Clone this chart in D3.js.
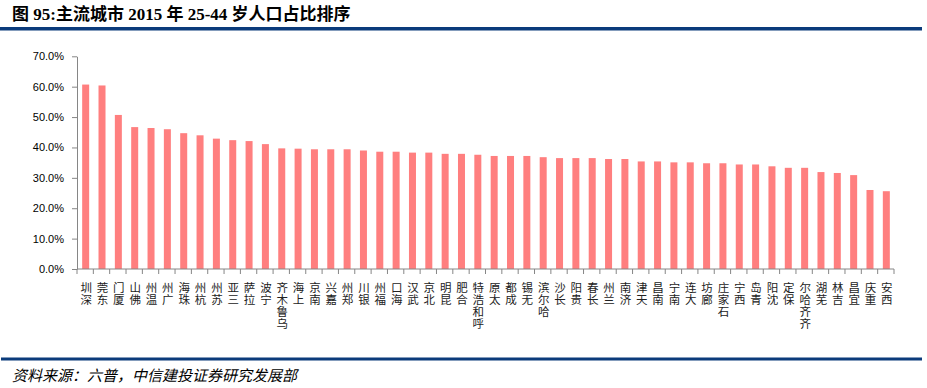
<!DOCTYPE html>
<html><head><meta charset="utf-8">
<script src="https://cdn.jsdelivr.net/npm/d3@7"></script>
<style>
html,body{margin:0;padding:0;background:#fff;}
svg{display:block;}
</style></head>
<body>
<script>
const cities = ["深圳","东莞","厦门","佛山","温州","广州","珠海","杭州","苏州","三亚","拉萨","宁波","乌鲁木齐","上海","南京","嘉兴","郑州","银川","福州","海口","武汉","北京","昆明","合肥","呼和浩特","太原","成都","无锡","哈尔滨","长沙","贵阳","长春","兰州","济南","天津","南昌","南宁","大连","廊坊","石家庄","西宁","青岛","沈阳","保定","齐齐哈尔","芜湖","吉林","宜昌","重庆","西安"];
const shares = [0.607,0.604,0.507,0.467,0.464,0.460,0.447,0.440,0.429,0.424,0.421,0.411,0.397,0.396,0.394,0.394,0.394,0.390,0.386,0.386,0.383,0.383,0.379,0.379,0.376,0.372,0.372,0.372,0.368,0.365,0.365,0.365,0.362,0.362,0.354,0.354,0.351,0.351,0.348,0.348,0.344,0.344,0.338,0.333,0.333,0.319,0.316,0.309,0.260,0.256];
const yTicks = [0,0.1,0.2,0.3,0.4,0.5,0.6,0.7];
const titleText = "图 95:主流城市 2015 年 25-44 岁人口占比排序";
const sourceText = "资料来源：六普，中信建投证券研究发展部";

const W = 927, H = 388;
const svg = d3.select("body").append("svg").attr("width", W).attr("height", H);

// title
svg.append("text").attr("x", 12).attr("y", 20)
  .attr("font-family", "'Liberation Serif','Noto Sans CJK SC',serif")
  .attr("font-weight", "bold").attr("font-size", 17).attr("fill", "#000")
  .text(titleText);
svg.append("rect").attr("x", 0).attr("y", 27).attr("width", 922).attr("height", 3.5).attr("fill", "#0b3b7b");
svg.append("rect").attr("x", 1).attr("y", 357.5).attr("width", 921).attr("height", 3).attr("fill", "#0b3b7b");
svg.append("text").attr("x", 12).attr("y", 381)
  .attr("font-family", "'Noto Sans CJK SC',sans-serif")
  .attr("font-style", "italic").attr("font-size", 15).attr("fill", "#000")
  .text(sourceText);

const x = d3.scaleBand().domain(cities).range([77, 894]).padding(0);
const y = d3.scaleLinear().domain([0, 0.7]).range([269, 56.3]);

const g = svg.append("g");
const barW = 7;
g.selectAll("rect.bar").data(cities).join("rect").attr("class","bar")
  .attr("x", d => x(d) + x.bandwidth()/2 - barW/2 + 0.5)
  .attr("width", barW)
  .attr("y", (d,i) => y(shares[i]))
  .attr("height", (d,i) => y(0) - y(shares[i]))
  .attr("fill", "#ff7f7f");

// y axis
const yAxis = d3.axisLeft(y).tickValues(yTicks).tickFormat(d3.format(".1%")).tickSize(5).tickSizeOuter(0).tickPadding(8);
const ya = svg.append("g").attr("transform", "translate(77,0)").call(yAxis);
ya.select(".domain").attr("stroke", "#868686");
ya.selectAll(".tick line").attr("stroke", "#868686");
ya.selectAll(".tick text").attr("font-family", "'Liberation Sans',Arial,sans-serif").attr("font-size", 11).attr("fill", "#000");

// x axis
svg.append("line").attr("x1", 77).attr("x2", 894).attr("y1", y(0)).attr("y2", y(0)).attr("stroke", "#868686");
const bounds = cities.map(c => x(c)).concat([x.range()[1]]);
svg.selectAll("line.xt").data(bounds).join("line").attr("class","xt")
  .attr("x1", d => d).attr("x2", d => d).attr("y1", y(0)).attr("y2", y(0) + 5).attr("stroke", "#868686");

// x labels: upright characters stacked bottom-to-top (vertical writing)
svg.append("g").selectAll("text.xl").data(cities).join("text").attr("class","xl")
  .attr("font-family", "'Noto Sans CJK SC',sans-serif").attr("font-size", 11.5).attr("fill", "#222")
  .style("writing-mode", "vertical-rl").style("text-orientation", "upright")
  .attr("letter-spacing", 0.6)
  .attr("x", d => x(d) + x.bandwidth()/2 + 1).attr("y", 282)
  .text(d => Array.from(d).reverse().join(""));
</script>
</body></html>
